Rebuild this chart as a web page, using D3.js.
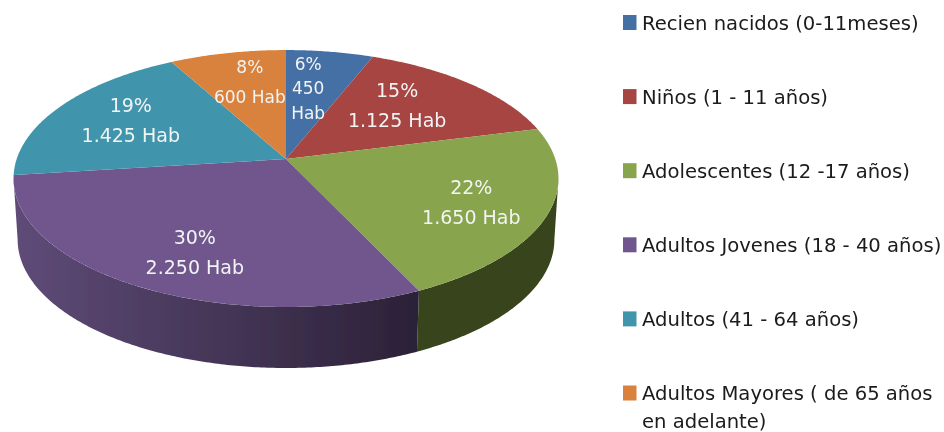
<!DOCTYPE html>
<html><head><meta charset="utf-8">
<script src="https://cdn.jsdelivr.net/npm/d3@7"></script>
<style>html,body{margin:0;background:#fff}svg{display:block}text{font-family:"DejaVu Sans",sans-serif}</style>
</head><body><svg id="c" width="944" height="432"></svg>
<script>
const categories = ["Recien nacidos (0-11meses)","Niños (1 - 11 años)","Adolescentes (12 -17 años)","Adultos Jovenes (18 - 40 años)","Adultos (41 - 64 años)","Adultos Mayores ( de 65 años"];
const legendExtra = ["","","","","","en adelante)"];
const habitants = [450,1125,1650,2250,1425,600];
const percents = ["6%","15%","22%","30%","19%","8%"];
const valueLabels = [["450","Hab"],["1.125 Hab"],["1.650 Hab"],["2.250 Hab"],["1.425 Hab"],["600 Hab"]];
const colors = ["#4470a6","#a64442","#88a44d","#70578d","#4095ad","#d9823c"];
const sideFrom = ["#2e4a6e","#6e2d2c","#37441c","#5f4b78","#2a6272","#8f5628"];
const sideTo   = ["#2e4a6e","#6e2d2c","#37441c","#2b2137","#2a6272","#8f5628"];
// Label anchors in unit-disc coordinates of the pie plane, and their type sizes
const labelU = [0.09,0.4415,0.654,-0.304,-0.605,-0.148];
const labelV = [-0.619,-0.46,0.326,0.672,-0.326,-0.677];
const labelSize = [17,19,19,19,19,17];

const W=944,H=432,cx=286,cy=159,R=269.3,k=125.5,p=0.152,depth=61,shrink=0.985;
const svg=d3.select("#c");
const defs=svg.append("defs");
defs.append("filter").attr("id","soft").append("feGaussianBlur").attr("stdDeviation",0.5);
const root=svg.append("g").attr("filter","url(#soft)");

const project=(u,v)=>{const d=1-p*v;return [cx+R*u/d,cy+k*v/d];};
const rim=a=>project(Math.sin(a),-Math.cos(a));
const rimLow=a=>{const q=rim(a);return [cx+(q[0]-cx)*shrink,q[1]+depth];};
const line=d3.line();
const pie=d3.pie().sort(null).startAngle(0).endAngle(2*Math.PI);
const arcs=pie(habitants);
const sample=(a0,a1)=>{const n=Math.max(2,Math.ceil(Math.abs(a1-a0)/0.01));return d3.range(n+1).map(i=>a0+(a1-a0)*i/n);};

// Visible side: from the widest right point round the front to the widest left point
const aRight=Math.PI-Math.acos(p), aLeft=Math.PI+Math.acos(p);
const side=root.append("g");
arcs.forEach((d,i)=>{
  const a0=Math.max(d.startAngle,aRight),a1=Math.min(d.endAngle,aLeft);
  if(a1<=a0)return;
  const g=defs.append("linearGradient").attr("id","side"+i).attr("gradientUnits","userSpaceOnUse")
    .attr("x1",rim(a1)[0]).attr("x2",rim(a0)[0]).attr("y1",0).attr("y2",0);
  g.append("stop").attr("offset",0).attr("stop-color",sideFrom[i]);
  g.append("stop").attr("offset",1).attr("stop-color",sideTo[i]);
  const pts=sample(a0,a1).map(rim).concat(sample(a1,a0).map(rimLow));
  side.append("path").attr("d",line(pts)+"Z").attr("fill",`url(#side${i})`);
});

// Top face
root.append("g").selectAll("path").data(arcs).join("path")
  .attr("d",d=>line([[cx,cy]].concat(sample(d.startAngle,d.endAngle).map(rim)))+"Z")
  .attr("fill",(d,i)=>colors[i]);

// Data labels
const labels=root.append("g").attr("text-anchor","middle").attr("fill","#f2f4f4");
habitants.forEach((v,i)=>{
  const lines=[percents[i]].concat(valueLabels[i]);
  const gap=lines.length===3?24.5:30;
  const q=project(labelU[i],labelV[i]);
  const t=labels.append("text").style("font-size",labelSize[i]+"px");
  lines.forEach((s,j)=>t.append("tspan").attr("x",q[0]).attr("y",q[1]+6.5+(j-(lines.length-1)/2)*gap).text(s));
});

// Legend
const legendY=d3.scalePoint().domain(categories).range([22.5,393]);
const leg=root.append("g");
categories.forEach((c,i)=>{
  const y=legendY(c);
  leg.append("rect").attr("x",623).attr("y",y-7.5).attr("width",13.5).attr("height",15).attr("fill",colors[i]);
  const t=leg.append("text").attr("fill","#1a1a1a").style("font-size","19.6px");
  t.append("tspan").attr("x",642).attr("y",y+7).text(c);
  if(legendExtra[i])t.append("tspan").attr("x",642).attr("y",y+35).text(legendExtra[i]);
});
</script></body></html>
